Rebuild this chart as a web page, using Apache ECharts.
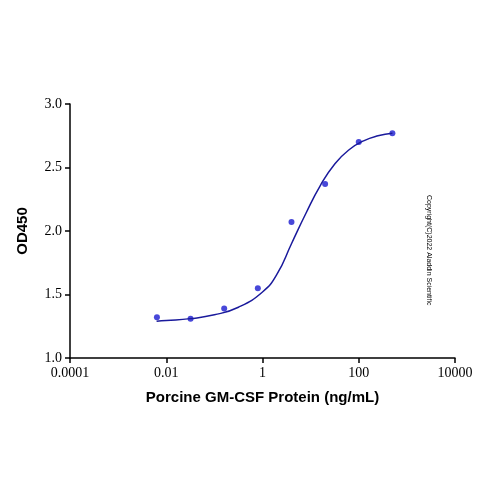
<!DOCTYPE html>
<html><head><meta charset="utf-8">
<script src="https://cdn.jsdelivr.net/npm/echarts@6/dist/echarts.min.js"></script>
<style>html,body{margin:0;padding:0;background:#fff}#c{width:500px;height:500px}</style>
</head><body><div id="c"></div>
<script>
var concentrations = [0.0064, 0.032, 0.16, 0.8, 4, 20, 100, 500];
var od450 = [1.32, 1.31, 1.39, 1.55, 2.07, 2.37, 2.70, 2.77];
var curveX = [0.0063, 0.01, 0.0316, 0.1, 0.316, 1, 2, 4, 8, 16, 32, 63, 126, 251, 500];
var curveY = [1.29, 1.295, 1.31, 1.34, 1.40, 1.52, 1.66, 1.90, 2.14, 2.36, 2.53, 2.64, 2.71, 2.75, 2.77];
var yTicks = ['1.0','1.5','2.0','2.5','3.0'];
var chart = echarts.init(document.getElementById('c'));
var font = 'Liberation Serif';
chart.setOption({
  animation:false,
  grid:{left:70,right:45,top:104,bottom:142},
  xAxis:{type:'log',logBase:10,min:0.0001,max:10000,interval:2,
    name:'Porcine GM-CSF Protein (ng/mL)',nameLocation:'middle',nameGap:32,
    nameTextStyle:{fontFamily:'Liberation Sans',fontWeight:'bold',fontSize:15,color:'#000'},
    axisLine:{lineStyle:{color:'#000',width:1.5}},axisTick:{lineStyle:{color:'#000',width:1.5},length:5},
    splitLine:{show:false},minorTick:{show:false},
    axisLabel:{color:'#000',fontFamily:font,fontSize:14,formatter:function(v){return String(+v.toPrecision(6));}}},
  yAxis:{type:'value',min:1,max:3,interval:0.5,
    name:'OD450',nameLocation:'middle',nameGap:40,
    nameTextStyle:{fontFamily:'Liberation Sans',fontWeight:'bold',fontSize:15,color:'#000'},
    axisLine:{show:true,lineStyle:{color:'#000',width:1.5}},axisTick:{show:true,lineStyle:{color:'#000',width:1.5},length:5},
    splitLine:{show:false},
    axisLabel:{color:'#000',fontFamily:font,fontSize:14,formatter:function(v){return yTicks[Math.round((v-1)/0.5)];}}},
  graphic:[{type:'text',x:432,y:195,rotation:-Math.PI/2,
    style:{text:'Copyright(C)2022 Aladdin Scientific',fontSize:7,fontFamily:'Liberation Sans',fill:'#000'}}],
  series:[
    {type:'line',data:curveX.map(function(x,i){return [x,curveY[i]];}),smooth:true,showSymbol:false,
      lineStyle:{color:'#1a1a9c',width:1.5}},
    {type:'scatter',data:concentrations.map(function(x,i){return [x,od450[i]];}),symbolSize:6,
      itemStyle:{color:'#1a1ad0'}}
  ]
});
</script></body></html>
